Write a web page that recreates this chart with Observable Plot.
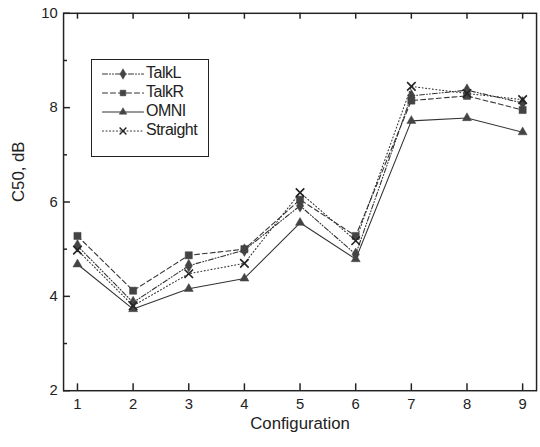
<!DOCTYPE html>
<html><head><meta charset="utf-8">
<script src="https://cdn.jsdelivr.net/npm/d3@7"></script>
<script src="https://cdn.jsdelivr.net/npm/@observablehq/plot@0.6"></script>
<style>
html,body{margin:0;padding:0;background:#fff;overflow:hidden;width:540px;height:447px}
#wrap{position:relative;width:540px;height:447px;font-family:"Liberation Sans",Arial,sans-serif}
#legend{position:absolute;left:91px;top:59px;width:118px;height:98px;border:1.3px solid #222;background:#fff;box-sizing:border-box}
.lrow{position:absolute;left:0;height:19px;display:flex;align-items:center}
.lrow span{font-size:16px;color:#222;margin-left:3px;letter-spacing:-0.5px}
</style></head>
<body><div id="wrap"></div>
<script>
const configs = [1, 2, 3, 4, 5, 6, 7, 8, 9];
const talkL = [5.07, 3.87, 4.65, 4.98, 5.92, 4.89, 8.25, 8.37, 8.10];
const talkR = [5.28, 4.12, 4.87, 5.00, 6.05, 5.28, 8.15, 8.25, 7.95];
const omni = [4.68, 3.73, 4.16, 4.38, 5.56, 4.79, 7.72, 7.78, 7.48];
const straight = [4.98, 3.80, 4.48, 4.70, 6.20, 5.18, 8.45, 8.30, 8.17];
const seriesNames = ["TalkL", "TalkR", "OMNI", "Straight"];
const yMajor = [2, 4, 6, 8, 10];
const yMinor = [3, 5, 7, 9];

const styles = {
  TalkL: {dash: "5,2,1,2,1,2", symbol: "diamond", r: 3.9, lr: 3.2},
  TalkR: {dash: "5,3", symbol: "square", r: 4.1, lr: 3.2},
  OMNI: {dash: null, symbol: "triangle", r: 3.4, lr: 2.8},
  Straight: {dash: "1,2.5", symbol: "times", r: 4.0, lr: 3.2}
};
const values = {TalkL: talkL, TalkR: talkR, OMNI: omni, Straight: straight};
const lineColor = "#333";
const markColor = "#444";

const W = 548, H = 447, ML = 64, MR = 4, MT = 13, MB = 51;
const FW = W - ML - MR, FH = H - MT - MB;

const marks = [];
for (const name of seriesNames) {
  const data = configs.map((c, i) => ({c, v: values[name][i]}));
  const s = styles[name];
  marks.push(Plot.line(data, {x: "c", y: "v", stroke: lineColor, strokeWidth: 1.1, strokeDasharray: s.dash}));
}
for (const name of seriesNames) {
  const data = configs.map((c, i) => ({c, v: values[name][i]}));
  const s = styles[name];
  if (s.symbol === "times") {
    marks.push(Plot.dot(data, {x: "c", y: "v", symbol: s.symbol, r: s.r, stroke: "#222", strokeWidth: 1.6}));
  } else {
    marks.push(Plot.dot(data, {x: "c", y: "v", symbol: s.symbol, r: s.r, fill: markColor, stroke: markColor, strokeWidth: 0.5}));
  }
}

const chart = Plot.plot({
  width: W, height: H,
  marginLeft: ML, marginRight: MR, marginTop: MT, marginBottom: MB,
  style: {fontFamily: '"Liberation Sans", Arial, sans-serif', fontSize: "15px", background: "white"},
  x: {domain: [0.75, 9.25]},
  y: {domain: [2, 10]},
  marks: [
    ...marks,
    // inward ticks
    Plot.tickX(configs, {x: d => d, insetTop: FH - 7, stroke: "#222", strokeWidth: 1.5}),
    Plot.tickX(configs, {x: d => d, insetBottom: FH - 6, stroke: "#222", strokeWidth: 1.5}),
    Plot.tickY(yMajor, {y: d => d, insetRight: FW - 7, stroke: "#222", strokeWidth: 1.5}),
    Plot.tickY(yMinor, {y: d => d, insetRight: FW - 4, stroke: "#222", strokeWidth: 1.5}),
    Plot.frame({stroke: "#222", strokeWidth: 1.5}),
    Plot.axisX({anchor: "bottom", ticks: configs, tickSize: 0, tickPadding: 8, tickFormat: d => String(d), label: null, fontSize: 15, fill: "#222"}),
    Plot.axisY({anchor: "left", ticks: yMajor, tickSize: 0, tickPadding: 6, tickFormat: d => String(d), label: null, fontSize: 15, fill: "#222"}),
    Plot.text(["Configuration"], {frameAnchor: "bottom", dy: 39, fontSize: 17, fill: "#222", letterSpacing: "-0.5px"}),
    Plot.text(["C50, dB"], {frameAnchor: "left", dx: -46, rotate: -90, fontSize: 17, fill: "#222"})
  ]
});
const wrap = document.getElementById("wrap");
wrap.appendChild(chart);

// legend overlay
const legend = document.createElement("div");
legend.id = "legend";
const rowTops = [13, 32, 51, 70];
seriesNames.forEach((name, i) => {
  const s = styles[name];
  const row = document.createElement("div");
  row.className = "lrow";
  row.style.top = (rowTops[i] - 9.5) + "px";
  row.style.left = "10px";
  const sw = Plot.plot({
    width: 41, height: 19, margin: 0,
    x: {domain: [0, 2], axis: null}, y: {domain: [0, 1], axis: null},
    style: {background: "transparent", overflow: "visible"},
    marks: [
      Plot.line([{x: 0, y: 0.5}, {x: 2, y: 0.5}], {x: "x", y: "y", stroke: lineColor, strokeWidth: 1.1, strokeDasharray: s.dash}),
      s.symbol === "times"
        ? Plot.dot([{x: 1, y: 0.5}], {x: "x", y: "y", symbol: s.symbol, r: s.lr, stroke: "#222", strokeWidth: 1.4})
        : Plot.dot([{x: 1, y: 0.5}], {x: "x", y: "y", symbol: s.symbol, r: s.lr, fill: markColor, stroke: markColor, strokeWidth: 0.5})
    ]
  });
  row.appendChild(sw);
  const t = document.createElement("span");
  t.textContent = name;
  row.appendChild(t);
  legend.appendChild(row);
});
wrap.appendChild(legend);
</script></body></html>
